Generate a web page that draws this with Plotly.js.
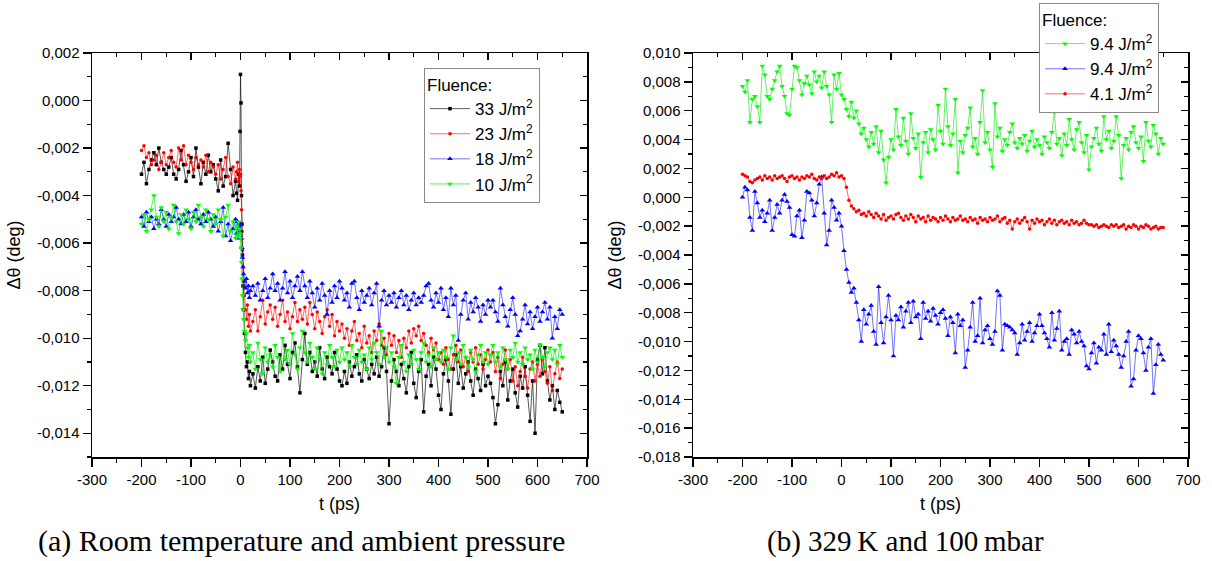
<!DOCTYPE html>
<html>
<head>
<meta charset="utf-8">
<script src="https://cdn.plot.ly/plotly-3.0.1.min.js"></script>
<style>html,body{margin:0;padding:0;background:#fff;}#chart{width:1212px;height:561px;}</style>
</head>
<body>
<div id="chart"></div>
<script>
// ---------- Left panel (a): time axis (ps) ----------
const tL = [-200,-195,-190,-185,-180,-175,-170,-165,-160,-155,-150,-145,-140,-135,-130,-125,-120,-115,-110,-105,
-100,-95,-90,-85,-80,-75,-70,-65,-60,-55,-50,-45,-40,-35,-30,-25,-20,-15,-10,
-8,-6,-4,-2,-1,0,1,2,3,4,5,6,8,10,12,14,16,18,20,
25,30,35,40,45,50,55,60,65,70,75,80,85,90,95,100,105,110,115,120,
125,130,135,140,145,150,155,160,165,170,175,180,185,190,195,200,
205,210,215,220,225,230,235,240,245,250,255,260,265,270,275,280,285,290,295,300,
305,310,315,320,325,330,335,340,345,350,355,360,365,370,375,380,385,390,395,400,
405,410,415,420,425,430,435,440,445,450,455,460,465,470,475,480,485,490,495,500,
505,510,515,520,525,530,535,540,545,550,555,560,565,570,575,580,585,590,595,600,
605,610,615,620,625,630,635,640,645,650];

const black33 = [-0.0031,-0.0026,-0.0035,-0.0029,-0.0025,-0.0022,-0.0027,-0.0020,-0.0026,-0.0029,
-0.0031,-0.0028,-0.0024,-0.0031,-0.0033,-0.0029,-0.0021,-0.0027,-0.0034,-0.0030,
-0.0024,-0.0032,-0.0020,-0.0028,-0.0035,-0.0026,-0.0031,-0.0023,-0.0030,-0.0027,
-0.0033,-0.0038,-0.0025,-0.0036,-0.0032,-0.0018,-0.0029,-0.0040,-0.0034,
-0.0039,-0.0042,-0.0031,-0.0036,-0.0013,0.0011,-0.0001,-0.0040,-0.0052,-0.0065,-0.0078,-0.0088,-0.0098,-0.0106,-0.0112,-0.0110,-0.0117,-0.0114,-0.0120,
-0.0115,-0.0121,-0.0112,-0.0118,-0.0108,-0.0119,-0.0113,-0.0105,
-0.0110,-0.0116,-0.0118,-0.0107,-0.0113,-0.0103,-0.0111,-0.0117,-0.0106,-0.0102,-0.0112,-0.0123,
-0.0109,-0.0098,-0.0111,-0.0106,-0.0114,-0.0110,-0.0116,-0.0104,-0.0113,-0.0117,-0.0108,-0.0112,-0.0115,-0.0106,-0.0113,-0.0118,
-0.0120,-0.0114,-0.0119,-0.0110,-0.0116,-0.0112,-0.0107,-0.0115,-0.0118,-0.0109,-0.0113,-0.0117,-0.0111,-0.0115,-0.0108,-0.0116,-0.0112,-0.0104,-0.0114,-0.0136,
-0.0118,-0.0109,-0.0114,-0.0120,-0.0111,-0.0117,-0.0123,-0.0112,-0.0106,-0.0119,-0.0125,-0.0114,-0.0109,-0.0131,-0.0116,-0.0111,-0.0120,-0.0108,-0.0113,-0.0124,
-0.0130,-0.0115,-0.0109,-0.0118,-0.0132,-0.0113,-0.0107,-0.0119,-0.0112,-0.0121,-0.0115,-0.0110,-0.0118,-0.0124,-0.0113,-0.0117,-0.0122,-0.0111,-0.0120,-0.0116,
-0.0119,-0.0125,-0.0136,-0.0128,-0.0114,-0.0120,-0.0110,-0.0126,-0.0118,-0.0113,-0.0123,-0.0129,-0.0116,-0.0121,-0.0112,-0.0124,-0.0135,-0.0118,-0.0140,-0.0109,
-0.0103,-0.0115,-0.0104,-0.0118,-0.0126,-0.0120,-0.0130,-0.0122,-0.0127,-0.0131];

const red23 = [-0.0021,-0.0019,-0.0024,-0.0022,-0.0027,-0.0025,-0.0023,-0.0029,-0.0026,-0.0022,
-0.0027,-0.0024,-0.0021,-0.0026,-0.0028,-0.0020,-0.0025,-0.0019,-0.0027,-0.0023,
-0.0026,-0.0029,-0.0024,-0.0027,-0.0025,-0.0028,-0.0023,-0.0030,-0.0026,-0.0028,
-0.0031,-0.0027,-0.0033,-0.0029,-0.0024,-0.0032,-0.0035,-0.0028,-0.0033,
-0.0030,-0.0026,-0.0034,-0.0029,-0.0032,-0.0031,-0.0038,-0.0046,-0.0055,-0.0063,-0.0070,-0.0076,-0.0082,-0.0088,-0.0092,-0.0086,-0.0095,-0.0090,-0.0097,
-0.0093,-0.0088,-0.0097,-0.0091,-0.0084,-0.0094,-0.0089,-0.0086,
-0.0092,-0.0087,-0.0095,-0.0090,-0.0084,-0.0093,-0.0089,-0.0096,-0.0091,-0.0085,-0.0093,-0.0088,
-0.0092,-0.0087,-0.0094,-0.0085,-0.0090,-0.0096,-0.0089,-0.0093,-0.0098,-0.0091,-0.0088,-0.0095,-0.0090,-0.0099,-0.0093,-0.0097,
-0.0094,-0.0100,-0.0096,-0.0103,-0.0097,-0.0093,-0.0101,-0.0098,-0.0104,-0.0095,-0.0102,-0.0099,-0.0106,-0.0097,-0.0101,-0.0094,-0.0103,-0.0100,-0.0107,-0.0098,
-0.0103,-0.0099,-0.0106,-0.0101,-0.0108,-0.0100,-0.0104,-0.0097,-0.0102,-0.0096,-0.0099,-0.0095,-0.0101,-0.0098,-0.0103,-0.0106,-0.0100,-0.0105,-0.0102,-0.0109,
-0.0106,-0.0111,-0.0104,-0.0109,-0.0113,-0.0107,-0.0103,-0.0110,-0.0105,-0.0112,-0.0108,-0.0114,-0.0106,-0.0110,-0.0104,-0.0111,-0.0107,-0.0113,-0.0109,-0.0105,
-0.0110,-0.0106,-0.0114,-0.0108,-0.0117,-0.0111,-0.0105,-0.0113,-0.0109,-0.0118,-0.0112,-0.0120,-0.0114,-0.0108,-0.0116,-0.0121,-0.0113,-0.0110,-0.0118,-0.0111,
-0.0116,-0.0109,-0.0114,-0.0119,-0.0112,-0.0122,-0.0115,-0.0110,-0.0117,-0.0113];

const blue18 = [-0.0049,-0.0053,-0.0047,-0.0051,-0.0049,-0.0054,-0.0050,-0.0052,-0.0046,-0.0050,
-0.0053,-0.0048,-0.0051,-0.0049,-0.0045,-0.0050,-0.0052,-0.0048,-0.0051,-0.0047,
-0.0053,-0.0049,-0.0046,-0.0050,-0.0052,-0.0048,-0.0051,-0.0047,-0.0050,-0.0053,
-0.0049,-0.0055,-0.0051,-0.0045,-0.0057,-0.0052,-0.0059,-0.0054,-0.0050,
-0.0056,-0.0051,-0.0058,-0.0053,-0.0055,-0.0052,-0.0055,-0.0058,-0.0062,-0.0066,-0.0070,-0.0073,-0.0076,-0.0079,-0.0075,-0.0081,-0.0078,-0.0083,-0.0080,
-0.0078,-0.0082,-0.0077,-0.0084,-0.0080,-0.0075,-0.0083,-0.0079,
-0.0073,-0.0080,-0.0077,-0.0084,-0.0079,-0.0072,-0.0081,-0.0076,-0.0083,-0.0078,-0.0074,-0.0080,
-0.0072,-0.0078,-0.0083,-0.0076,-0.0081,-0.0087,-0.0079,-0.0084,-0.0077,-0.0082,-0.0090,-0.0080,-0.0085,-0.0078,-0.0083,-0.0076,
-0.0079,-0.0084,-0.0081,-0.0087,-0.0077,-0.0076,-0.0083,-0.0088,-0.0080,-0.0085,-0.0082,-0.0079,-0.0086,-0.0081,-0.0077,-0.0095,-0.0084,-0.0080,-0.0086,-0.0082,
-0.0085,-0.0081,-0.0087,-0.0083,-0.0080,-0.0086,-0.0082,-0.0088,-0.0084,-0.0081,-0.0086,-0.0083,-0.0085,-0.0082,-0.0078,-0.0077,-0.0084,-0.0087,-0.0081,-0.0085,
-0.0079,-0.0088,-0.0083,-0.0091,-0.0079,-0.0086,-0.0082,-0.0101,-0.0090,-0.0084,-0.0081,-0.0092,-0.0085,-0.0089,-0.0083,-0.0087,-0.0093,-0.0086,-0.0090,-0.0084,
-0.0087,-0.0084,-0.0089,-0.0093,-0.0079,-0.0086,-0.0091,-0.0095,-0.0088,-0.0083,-0.0090,-0.0099,-0.0097,-0.0092,-0.0086,-0.0094,-0.0089,-0.0096,-0.0091,-0.0087,
-0.0093,-0.0089,-0.0085,-0.0092,-0.0087,-0.0100,-0.0091,-0.0096,-0.0088,-0.0090];

const green10 = [-0.0052,-0.0048,-0.0055,-0.0050,-0.0046,-0.0040,-0.0049,-0.0053,-0.0045,-0.0051,
-0.0047,-0.0054,-0.0049,-0.0044,-0.0051,-0.0056,-0.0048,-0.0052,-0.0046,-0.0050,
-0.0054,-0.0047,-0.0051,-0.0044,-0.0049,-0.0053,-0.0046,-0.0050,-0.0055,-0.0048,
-0.0052,-0.0046,-0.0050,-0.0057,-0.0049,-0.0044,-0.0055,-0.0051,-0.0058,
-0.0053,-0.0057,-0.0051,-0.0056,-0.0054,-0.0058,-0.0062,-0.0068,-0.0075,-0.0082,-0.0088,-0.0092,-0.0097,-0.0101,-0.0098,-0.0104,-0.0108,-0.0103,-0.0110,
-0.0106,-0.0113,-0.0102,-0.0109,-0.0115,-0.0104,-0.0110,-0.0107,
-0.0112,-0.0103,-0.0108,-0.0114,-0.0100,-0.0109,-0.0105,-0.0111,-0.0098,-0.0107,-0.0113,-0.0104,
-0.0097,-0.0106,-0.0110,-0.0102,-0.0108,-0.0113,-0.0104,-0.0109,-0.0115,-0.0106,-0.0111,-0.0103,-0.0108,-0.0112,-0.0105,-0.0110,
-0.0104,-0.0109,-0.0106,-0.0112,-0.0103,-0.0108,-0.0111,-0.0105,-0.0110,-0.0107,-0.0113,-0.0104,-0.0109,-0.0102,-0.0106,-0.0111,-0.0097,-0.0108,-0.0104,-0.0110,
-0.0106,-0.0112,-0.0119,-0.0108,-0.0103,-0.0110,-0.0114,-0.0107,-0.0111,-0.0105,-0.0109,-0.0113,-0.0106,-0.0102,-0.0110,-0.0107,-0.0112,-0.0104,-0.0109,-0.0106,
-0.0110,-0.0105,-0.0108,-0.0113,-0.0104,-0.0099,-0.0109,-0.0106,-0.0111,-0.0103,-0.0108,-0.0112,-0.0105,-0.0109,-0.0114,-0.0107,-0.0103,-0.0110,-0.0106,-0.0111,
-0.0107,-0.0103,-0.0110,-0.0106,-0.0112,-0.0104,-0.0109,-0.0113,-0.0105,-0.0108,-0.0102,-0.0110,-0.0106,-0.0111,-0.0104,-0.0109,-0.0107,-0.0113,-0.0105,-0.0110,
-0.0103,-0.0108,-0.0112,-0.0106,-0.0104,-0.0109,-0.0105,-0.0111,-0.0103,-0.0108];

// ---------- Right panel (b): time axis (ps) ----------
const tR = [-200,-195,-190,-185,-180,-175,-170,-165,-160,-155,-150,-145,-140,-135,-130,-125,-120,-115,-110,-105,
-100,-95,-90,-85,-80,-75,-70,-65,-60,-55,-50,-45,-40,-35,-30,-25,-20,-15,-10,-5,0,
5,10,15,20,25,30,35,40,45,50,55,60,65,70,75,80,85,90,95,100,
105,110,115,120,125,130,135,140,145,150,155,160,165,170,175,180,185,190,195,200,
205,210,215,220,225,230,235,240,245,250,255,260,265,270,275,280,285,290,295,300,
305,310,315,320,325,330,335,340,345,350,355,360,365,370,375,380,385,390,395,400,
405,410,415,420,425,430,435,440,445,450,455,460,465,470,475,480,485,490,495,500,
505,510,515,520,525,530,535,540,545,550,555,560,565,570,575,580,585,590,595,600,
605,610,615,620,625,630,635,640,645,650];

const green94 = [0.0077,0.0073,0.0081,0.0052,0.0068,0.0070,0.0063,0.0052,0.0091,0.0085,
0.0070,0.0068,0.0075,0.0081,0.0087,0.0091,0.0077,0.0070,0.0058,0.0057,
0.0075,0.0091,0.0090,0.0081,0.0071,0.0079,0.0084,0.0078,0.0072,0.0087,
0.0080,0.0084,0.0076,0.0087,0.0077,0.0071,0.0052,0.0085,0.0075,0.0086,0.0071,
0.0068,0.0061,0.0056,0.0066,0.0055,0.0060,0.0051,0.0044,0.0048,0.0040,0.0035,0.0045,0.0037,0.0049,0.0031,0.0046,0.0026,0.0010,0.0028,0.0040,
0.0033,0.0061,0.0042,0.0036,0.0055,0.0039,0.0030,0.0058,0.0041,0.0034,
0.0044,0.0014,0.0038,0.0045,0.0031,0.0047,0.0040,0.0033,0.0064,0.0046,
0.0037,0.0075,0.0049,0.0036,0.0044,0.0068,0.0017,0.0039,0.0031,0.0043,
0.0048,0.0062,0.0035,0.0041,0.0030,0.0052,0.0074,0.0038,0.0045,0.0033,
0.0021,0.0065,0.0042,0.0048,0.0032,0.0040,0.0036,0.0045,0.0051,0.0038,
0.0034,0.0041,0.0037,0.0043,0.0032,0.0039,0.0046,0.0035,0.0040,0.0036,
0.0030,0.0042,0.0038,0.0034,0.0045,0.0059,0.0037,0.0041,0.0029,0.0044,
0.0036,0.0054,0.0040,0.0033,0.0047,0.0052,0.0038,0.0031,0.0043,0.0019,
0.0035,0.0041,0.0048,0.0037,0.0032,0.0056,0.0040,0.0046,0.0034,0.0039,
0.0056,0.0043,0.0013,0.0036,0.0041,0.0033,0.0045,0.0049,0.0038,0.0034,
0.0042,0.0025,0.0052,0.0039,0.0035,0.0050,0.0044,0.0030,0.0041,0.0037];

const blue94 = [0.0000,0.0007,0.0005,-0.0014,-0.0023,0.0004,-0.0004,-0.0014,-0.0009,-0.0017,
-0.0011,-0.0002,-0.0023,-0.0014,-0.0005,-0.0011,-0.0002,0.0002,-0.0003,-0.0007,
-0.0026,-0.0027,-0.0013,-0.0009,-0.0028,-0.0016,0.0004,0.0003,-0.0002,-0.0013,
-0.0004,0.0009,0.0014,-0.0011,-0.0033,-0.0023,-0.0002,-0.0007,-0.0016,-0.0011,-0.0020,
-0.0037,-0.0050,-0.0059,-0.0066,-0.0063,-0.0073,-0.0085,-0.0100,-0.0078,-0.0088,-0.0081,-0.0075,-0.0093,-0.0102,-0.0062,-0.0087,-0.0101,-0.0083,-0.0068,-0.0085,
-0.0110,-0.0082,-0.0085,-0.0076,-0.0090,-0.0079,-0.0073,-0.0087,-0.0072,-0.0083,
-0.0081,-0.0098,-0.0073,-0.0084,-0.0079,-0.0086,-0.0077,-0.0082,-0.0088,-0.0080,
-0.0078,-0.0084,-0.0096,-0.0083,-0.0087,-0.0108,-0.0081,-0.0089,-0.0085,-0.0118,
-0.0106,-0.0090,-0.0073,-0.0100,-0.0096,-0.0070,-0.0101,-0.0092,-0.0089,-0.0098,
-0.0102,-0.0093,-0.0065,-0.0068,-0.0106,-0.0088,-0.0089,-0.0090,-0.0092,-0.0094,
-0.0109,-0.0101,-0.0088,-0.0099,-0.0093,-0.0087,-0.0100,-0.0094,-0.0089,-0.0081,
-0.0089,-0.0094,-0.0098,-0.0104,-0.0080,-0.0099,-0.0091,-0.0079,-0.0106,-0.0100,
-0.0098,-0.0109,-0.0092,-0.0095,-0.0101,-0.0093,-0.0100,-0.0103,-0.0117,-0.0119,
-0.0108,-0.0101,-0.0115,-0.0104,-0.0106,-0.0095,-0.0109,-0.0088,-0.0107,-0.0099,
-0.0103,-0.0109,-0.0118,-0.0110,-0.0100,-0.0093,-0.0131,-0.0126,-0.0106,-0.0096,
-0.0098,-0.0108,-0.0120,-0.0104,-0.0098,-0.0136,-0.0116,-0.0102,-0.0109,-0.0113];

const red41 = [0.0016,0.0015,0.0014,0.0011,0.0010,0.0012,0.0013,0.0014,0.0012,0.0015,
0.0013,0.0014,0.0012,0.0015,0.0013,0.0014,0.0015,0.0013,0.0011,0.0014,
0.0015,0.0013,0.0014,0.0012,0.0014,0.0013,0.0015,0.0014,0.0016,0.0013,
0.0012,0.0014,0.0013,0.0015,0.0013,0.0014,0.0016,0.0015,0.0017,0.0014,0.0015,
0.0013,0.0007,-0.0002,-0.0006,-0.0008,-0.0010,-0.0009,-0.0012,-0.0011,-0.0013,-0.0010,-0.0012,-0.0014,-0.0011,-0.0013,-0.0015,-0.0012,-0.0016,-0.0014,-0.0013,
-0.0015,-0.0012,-0.0011,-0.0014,-0.0016,-0.0013,-0.0015,-0.0012,-0.0014,-0.0017,
-0.0013,-0.0015,-0.0014,-0.0017,-0.0013,-0.0016,-0.0014,-0.0015,-0.0017,-0.0014,
-0.0016,-0.0013,-0.0015,-0.0017,-0.0014,-0.0016,-0.0015,-0.0013,-0.0016,-0.0015,
-0.0017,-0.0014,-0.0016,-0.0015,-0.0018,-0.0014,-0.0016,-0.0015,-0.0017,-0.0014,
-0.0016,-0.0015,-0.0013,-0.0017,-0.0015,-0.0014,-0.0018,-0.0016,-0.0022,-0.0017,
-0.0015,-0.0018,-0.0016,-0.0014,-0.0017,-0.0022,-0.0016,-0.0018,-0.0015,-0.0017,
-0.0016,-0.0019,-0.0017,-0.0015,-0.0018,-0.0016,-0.0019,-0.0017,-0.0016,-0.0018,
-0.0017,-0.0019,-0.0016,-0.0018,-0.0017,-0.0019,-0.0018,-0.0016,-0.0018,-0.0019,
-0.0019,-0.0020,-0.0019,-0.0021,-0.0020,-0.0019,-0.0020,-0.0021,-0.0019,-0.0020,
-0.0019,-0.0021,-0.0020,-0.0019,-0.0022,-0.0020,-0.0021,-0.0019,-0.0020,-0.0022,
-0.0020,-0.0021,-0.0019,-0.0020,-0.0022,-0.0021,-0.0020,-0.0022,-0.0021,-0.0021];

// ---------- Tick labels ----------
const xTickVals = [-300,-200,-100,0,100,200,300,400,500,600,700];
const xTickText = ["-300","-200","-100","0","100","200","300","400","500","600","700"];
const yLTickVals = [0.002,0,-0.002,-0.004,-0.006,-0.008,-0.010,-0.012,-0.014];
const yLTickText = ["0,002","0,000","-0,002","-0,004","-0,006","-0,008","-0,010","-0,012","-0,014"];
const yRTickVals = [0.010,0.008,0.006,0.004,0.002,0,-0.002,-0.004,-0.006,-0.008,-0.010,-0.012,-0.014,-0.016,-0.018];
const yRTickText = ["0,010","0,008","0,006","0,004","0,002","0,000","-0,002","-0,004","-0,006","-0,008","-0,010","-0,012","-0,014","-0,016","-0,018"];

const TXT = "Liberation Sans, Arial, sans-serif";

function series(x, y, name, col, lineCol, sym, size, xa, ya, leg) {
  return {type:'scatter', mode:'lines+markers', x:x, y:y, name:name,
    xaxis:xa, yaxis:ya, legend:leg,
    line:{color:lineCol, width:1},
    marker:{color:col, symbol:sym, size:size, line:{width:0}}};
}
// placeholders that only make the inward-ticked mirror axes (top/right frame) exist
function frameHolder(xa, ya) {
  return {type:'scatter', mode:'markers', x:[null], y:[null], xaxis:xa, yaxis:ya,
    showlegend:false, hoverinfo:'skip', marker:{opacity:0}};
}

const data = [
  series(tL, black33, '33 J/m<sup>2</sup>', '#000000', 'rgba(0,0,0,0.65)', 'square', 3.5, 'x', 'y', 'legend'),
  series(tL, red23, '23 J/m<sup>2</sup>', '#ff0000', 'rgba(255,0,0,0.6)', 'circle', 3.5, 'x', 'y', 'legend'),
  series(tL, blue18, '18 J/m<sup>2</sup>', '#0000ff', 'rgba(0,0,255,0.55)', 'triangle-up', 5, 'x', 'y', 'legend'),
  series(tL, green10, '10 J/m<sup>2</sup>', '#00ff00', 'rgba(0,230,0,0.65)', 'triangle-down', 5, 'x', 'y', 'legend'),
  series(tR, green94, '9.4 J/m<sup>2</sup>', '#00ff00', 'rgba(0,230,0,0.6)', 'triangle-down', 5, 'x2', 'y2', 'legend2'),
  series(tR, blue94, '9.4 J/m<sup>2</sup>', '#0000ff', 'rgba(0,0,255,0.55)', 'triangle-up', 5, 'x2', 'y2', 'legend2'),
  series(tR, red41, '4.1 J/m<sup>2</sup>', '#ff0000', 'rgba(255,0,0,0.6)', 'circle', 3.5, 'x2', 'y2', 'legend2'),
  frameHolder('x3', 'y'), frameHolder('x', 'y3'), frameHolder('x4', 'y2'), frameHolder('x2', 'y4')
];

const W = 1212, H = 561;
const dL = [92/W, 587/W], dR = [693/W, 1188/W], dY = [1-457/H, 1-53/H];
const tickF = {family:TXT, size:15, color:'#000'};
const titleF = {family:TXT, size:18, color:'#000'};

function xAx(dom, anchor, title) {
  return {domain:dom, anchor:anchor, range:[-300,700], showgrid:false, zeroline:false,
    showline:true, mirror:true, linecolor:'#000', linewidth:1.5, ticks:'outside', ticklen:8, tickwidth:1.3, tickcolor:'#000',
    tickmode:'array', tickvals:xTickVals, ticktext:xTickText, tickfont:tickF,
    minor:{tickmode:'linear', tick0:-250, dtick:100, ticks:'outside', ticklen:4, tickwidth:1.2, tickcolor:'#000', showgrid:false},
    title:{text:title, font:titleF, standoff:11}, automargin:false};
}
function yAx(dom, anchor, range, vals, txt, title) {
  return {domain:dom, anchor:anchor, range:range, showgrid:false, zeroline:false,
    showline:true, mirror:true, linecolor:'#000', linewidth:1.5, ticks:'outside', ticklen:8, tickwidth:1.3, tickcolor:'#000',
    tickmode:'array', tickvals:vals, ticktext:txt, tickfont:tickF,
    minor:{tickmode:'linear', tick0:0.001, dtick:0.002, ticks:'outside', ticklen:4, tickwidth:1.2, tickcolor:'#000', showgrid:false},
    title:{text:title, font:titleF, standoff:11}, automargin:false};
}
function mirX(over, anchor) {
  return {overlaying:over, anchor:anchor, side:'top', range:[-300,700], showgrid:false, zeroline:false,
    showline:true, linecolor:'#000', linewidth:1.5, ticks:'inside', ticklen:7, tickwidth:1.3, tickcolor:'#000',
    tickmode:'linear', tick0:-300, dtick:100, showticklabels:false,
    minor:{tickmode:'linear', tick0:-250, dtick:100, ticks:'inside', ticklen:4, tickwidth:1.2, tickcolor:'#000', showgrid:false},
    automargin:false};
}
function mirY(over, anchor, range) {
  return {overlaying:over, anchor:anchor, side:'right', range:range, showgrid:false, zeroline:false,
    showline:true, linecolor:'#000', linewidth:1.5, ticks:'inside', ticklen:7, tickwidth:1.3, tickcolor:'#000',
    tickmode:'linear', tick0:0, dtick:0.002, showticklabels:false,
    minor:{tickmode:'linear', tick0:0.001, dtick:0.002, ticks:'inside', ticklen:4, tickwidth:1.2, tickcolor:'#000', showgrid:false},
    automargin:false};
}

const legFont = {family:TXT, size:17, color:'#000'};
const layout = {
  width:W, height:H, margin:{l:0, r:0, t:0, b:0},
  paper_bgcolor:'#fff', plot_bgcolor:'#fff',
  xaxis: xAx(dL, 'y', 't (ps)'),
  yaxis: yAx(dY, 'x', [-0.015, 0.002], yLTickVals, yLTickText, 'Δθ (deg)'),
  xaxis2: xAx(dR, 'y2', 't (ps)'),
  yaxis2: yAx(dY, 'x2', [-0.018, 0.010], yRTickVals, yRTickText, 'Δθ (deg)'),
  xaxis3: mirX('x', 'y'),
  yaxis3: mirY('y', 'x', [-0.015, 0.002]),
  xaxis4: mirX('x2', 'y2'),
  yaxis4: mirY('y2', 'x2', [-0.018, 0.010]),
  legend: {x:424/W, y:1-68/H, xanchor:'left', yanchor:'top', bgcolor:'#fff', bordercolor:'#888', borderwidth:1,
    font:legFont, title:{text:'Fluence:', font:legFont}, tracegroupgap:0, itemwidth:40},
  legend2: {x:1039/W, y:1-3/H, xanchor:'left', yanchor:'top', bgcolor:'#fff', bordercolor:'#888', borderwidth:1,
    font:legFont, title:{text:'Fluence:', font:legFont}, tracegroupgap:0, itemwidth:40},
  showlegend:true,
  annotations:[
    {xref:'paper', yref:'paper', x:301/W, y:1-541/H, xanchor:'center', yanchor:'middle', showarrow:false,
     text:'(a) Room temperature and ambient pressure', font:{family:'Liberation Serif, serif', size:30, color:'#000'}},
    {xref:'paper', yref:'paper', x:905/W, y:1-541/H, xanchor:'center', yanchor:'middle', showarrow:false,
     text:'(b) 329\u2009K and 100\u2009mbar', font:{family:'Liberation Serif, serif', size:29, color:'#000'}}
  ]
};

Plotly.newPlot('chart', data, layout, {displayModeBar:false, staticPlot:true});
</script>
</body>
</html>
